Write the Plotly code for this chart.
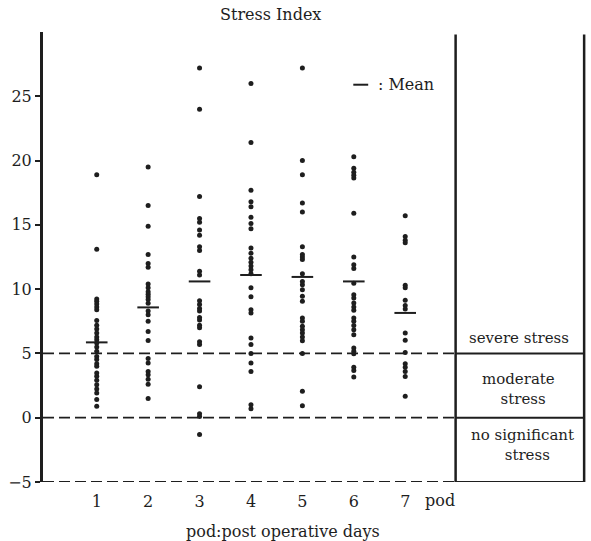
import plotly.graph_objects as go

days = [1, 2, 3, 4, 5, 6, 7]
tick_labels = ["1", "2", "3", "4", "5", "6", "7"]
y_ticks = [-5, 0, 5, 10, 15, 20, 25]

pod1 = [18.9, 13.1, 9.24, 9.05, 8.85, 8.61, 8.40, 7.57, 7.19, 6.90, 6.59, 6.28, 6.07,
        5.81, 5.50, 5.16, 4.77, 4.52, 4.20, 4.00, 3.48, 3.22, 2.91, 2.57, 2.23, 1.92,
        1.41, 0.89]
pod2 = [19.5, 16.5, 14.9, 12.7, 12.0, 11.7, 10.4, 10.1, 9.8, 9.6, 9.4, 9.2, 8.9, 8.3,
        8.0, 7.5, 6.7, 6.0, 4.6, 4.25, 3.6, 3.35, 3.0, 2.6, 1.5]
pod3 = [27.2, 24.0, 17.2, 15.5, 15.2, 14.6, 14.2, 13.3, 13.0, 11.4, 11.1, 9.1, 8.8,
        8.5, 8.3, 7.8, 7.6, 7.2, 7.0, 5.9, 5.7, 2.4, 0.3, 0.1, -1.3]
pod4 = [26.0, 21.4, 17.7, 16.8, 16.4, 15.6, 15.1, 14.7, 13.2, 12.8, 12.4, 12.1, 11.8,
        11.5, 11.2, 10.1, 9.4, 8.4, 8.15, 6.2, 5.7, 5.0, 4.25, 3.6, 1.0, 0.7]
pod5 = [27.2, 20.0, 18.9, 16.7, 16.0, 13.3, 12.7, 12.5, 12.3, 11.2, 10.6, 10.35, 9.96,
        9.44, 9.05, 7.76, 7.5, 7.11, 6.85, 6.59, 6.28, 5.99, 5.0, 2.05, 0.93]
pod6 = [20.3, 19.4, 19.1, 18.85, 18.65, 15.9, 12.5, 11.9, 11.6, 10.45, 9.57, 9.31,
        8.93, 8.61, 8.35, 7.76, 7.5, 7.18, 6.85, 6.46, 5.42, 5.16, 4.98, 3.92, 3.68, 3.16]
pod7 = [15.7, 14.1, 13.8, 13.6, 10.3, 10.1, 9.13, 8.72, 8.46, 6.59, 6.02, 5.08, 4.2,
        3.92, 3.6, 3.21, 1.66]
series = [pod1, pod2, pod3, pod4, pod5, pod6, pod7]

means = [5.86, 8.58, 10.6, 11.1, 10.95, 10.6, 8.15]

thresholds = [5, 0, -5]
zone_labels = ["severe stress", "moderate<br>  stress", "no significant<br>  stress"]

FONT = "DejaVu Serif"
INK = "#1e1e1e"
BOX_X0 = 7.98
BOX_X1 = 10.48
X_RANGE = [-0.045, 10.555]
Y_RANGE = [-5, 30]

fig = go.Figure()

xs, ys = [], []
for d, vals in zip(days, series):
    xs += [d] * len(vals)
    ys += vals
fig.add_trace(go.Scatter(x=xs, y=ys, mode="markers",
                         marker=dict(size=5, color=INK), showlegend=False,
                         hoverinfo="y"))

mx, my = [], []
for d, m in zip(days, means):
    mx += [d - 0.21, d + 0.21, None]
    my += [m, m, None]
fig.add_trace(go.Scatter(x=mx, y=my, mode="lines",
                         line=dict(color=INK, width=2), showlegend=False,
                         hoverinfo="skip"))

shapes = []
for t in thresholds:
    shapes.append(dict(type="line", xref="x", yref="y", x0=X_RANGE[0], x1=BOX_X0,
                       y0=t, y1=t, line=dict(color=INK, width=1.8, dash="11px,5px")))
    shapes.append(dict(type="line", xref="x", yref="y", x0=BOX_X0, x1=BOX_X1,
                       y0=t, y1=t, line=dict(color=INK, width=2)))
for bx in [BOX_X0, BOX_X1]:
    shapes.append(dict(type="line", xref="x", yref="y", x0=bx, x1=bx,
                       y0=-5, y1=29.8, line=dict(color=INK, width=2.5)))
# legend key for mean
shapes.append(dict(type="line", xref="x", yref="y", x0=5.99, x1=6.28,
                   y0=25.9, y1=25.9, line=dict(color=INK, width=2)))

annotations = [
    dict(text=": Mean", xref="x", yref="y", x=6.43, y=25.9, xanchor="left",
         yanchor="middle", showarrow=False, font=dict(family=FONT, size=16, color=INK)),
    dict(text="Stress Index", xref="x", yref="paper", x=4.37, y=1.038,
         xanchor="center", yanchor="middle", showarrow=False,
         font=dict(family=FONT, size=16, color=INK)),
    dict(text="pod:post operative days", xref="x", yref="paper", x=4.63, y=-0.109,
         xanchor="center", yanchor="middle", showarrow=False,
         font=dict(family=FONT, size=16, color=INK)),
    dict(text="pod", xref="x", yref="paper", x=7.68, y=-0.04,
         xanchor="center", yanchor="middle", showarrow=False,
         font=dict(family=FONT, size=16, color=INK)),
]
zone_pos = [(9.22, 6.2), (9.2, 2.2), (9.28, -2.1)]
for (zx, zy), lab in zip(zone_pos, zone_labels):
    annotations.append(dict(text=lab, xref="x", yref="y", x=zx, y=zy,
                            xanchor="center", yanchor="middle", showarrow=False,
                            align="center",
                            font=dict(family=FONT, size=15, color=INK)))

fig.update_layout(
    width=591, height=541,
    margin=dict(l=43, r=3, t=32, b=59),
    paper_bgcolor="white", plot_bgcolor="white",
    shapes=shapes, annotations=annotations,
    font=dict(family=FONT, size=16, color=INK),
    xaxis=dict(range=X_RANGE, tickvals=days, ticktext=tick_labels, showgrid=False,
               zeroline=False, showline=False, ticks="", ticklabelstandoff=8,
               tickfont=dict(family=FONT, size=16, color=INK), fixedrange=True),
    yaxis=dict(range=Y_RANGE, tickvals=y_ticks, showgrid=False, zeroline=False,
               showline=True, linewidth=3, linecolor=INK, ticks="outside",
               ticklen=5, tickwidth=1.5, tickcolor=INK,
               tickfont=dict(family=FONT, size=16, color=INK), fixedrange=True),
)

fig.write_html("out.html", config={"displayModeBar": False})

with open("out.html", "r", encoding="utf-8") as f:
    html = f.read()
html = html.replace("<head>", "<head><style>html,body{margin:0;padding:0;overflow:hidden}</style>", 1)
with open("out.html", "w", encoding="utf-8") as f:
    f.write(html)
